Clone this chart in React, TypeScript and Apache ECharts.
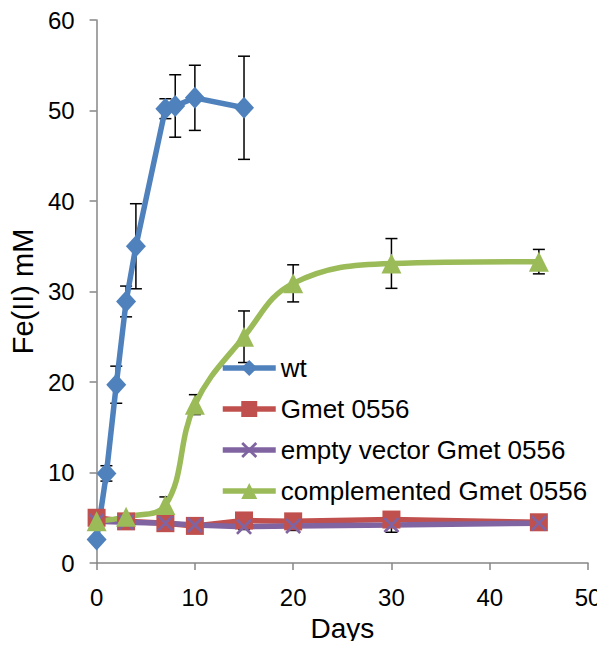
import React, { useEffect, useRef } from "react";
import * as echarts from "echarts";

const wtDays = [0, 1, 2, 3, 4, 7, 8, 10, 15];
const wtValues = [2.6, 9.9, 19.7, 28.9, 35.0, 50.2, 50.5, 51.4, 50.3];
const wtErrors = [0, 0.85, 2.05, 1.7, 4.7, 1.1, 3.45, 3.6, 5.7];

const otherDays = [0, 3, 7, 10, 15, 20, 30, 45];
const gmetValues = [5.0, 4.6, 4.4, 4.1, 4.7, 4.6, 4.8, 4.5];
const gmetErrors = [0.3, 0.3, 0.3, 0.3, 0.3, 0.4, 0.5, 0.3];
const emptyValues = [4.6, 4.5, 4.4, 4.2, 4.0, 4.1, 4.2, 4.4];
const emptyErrors = [0.3, 0.3, 0.3, 0.3, 0.3, 0.5, 0.8, 0.3];
const compValues = [4.6, 5.1, 6.4, 17.5, 25.0, 30.9, 33.1, 33.3];
const compErrors = [0.3, 0.3, 0.9, 1.1, 2.85, 2.05, 2.75, 1.35];

const seriesNames = ["wt", "Gmet 0556", "empty vector Gmet 0556", "complemented Gmet 0556"];
const colors = ["#4F81BD", "#C0504D", "#8064A2", "#9BBB59"];

const xSymbol =
  "path://M0,1.2 L1.2,0 L5,3.8 L8.8,0 L10,1.2 L6.2,5 L10,8.8 L8.8,10 L5,6.2 L1.2,10 L0,8.8 L3.8,5 Z";

const pairs = (xs: number[], ys: number[]) => xs.map((x, i) => [x, ys[i]]);
const errRows = (xs: number[], ys: number[], es: number[]) => xs.map((x, i) => [x, ys[i], es[i]]);

const FONT = "'Liberation Sans', Arial, sans-serif";

export default function App() {
  const ref = useRef<HTMLDivElement>(null);
  useEffect(() => {
    if (!ref.current) return;
    const chart = echarts.init(ref.current, undefined, { renderer: "svg" });

    const errorSeries = (rows: number[][]) => ({
      type: "custom",
      z: 1,
      silent: true,
      data: rows,
      encode: { x: 0, y: 1 },
      renderItem: (params: any, api: any) => {
        const x = api.value(0);
        const y = api.value(1);
        const e = api.value(2);
        if (!e || e <= 0) return { type: "group", children: [] };
        const top = api.coord([x, y + e]);
        const bot = api.coord([x, y - e]);
        const hw = 6;
        const st = { stroke: "#000", lineWidth: 1.5 };
        return {
          type: "group",
          children: [
            { type: "line", shape: { x1: top[0], y1: top[1], x2: bot[0], y2: bot[1] }, style: st },
            { type: "line", shape: { x1: top[0] - hw, y1: top[1], x2: top[0] + hw, y2: top[1] }, style: st },
            { type: "line", shape: { x1: bot[0] - hw, y1: bot[1], x2: bot[0] + hw, y2: bot[1] }, style: st },
          ],
        };
      },
    });

    const lineBase = (name: string, color: string, data: number[][], symbol: string, size: any, smooth: any) => ({
      name,
      type: "line",
      z: 2,
      data,
      smooth,
      symbol,
      symbolSize: size,
      showAllSymbol: true,
      lineStyle: { color, width: 5.5 },
      itemStyle: { color, borderWidth: 0 },
      emphasis: { disabled: true },
    });

    chart.setOption({
      animation: false,
      backgroundColor: "#ffffff",
      grid: { left: 95, right: 17, top: 20, bottom: 86, containLabel: false },
      legend: {
        orient: "vertical",
        left: 220,
        top: 355,
        padding: 0,
        itemWidth: 53,
        itemHeight: 20,
        itemGap: 15,
        data: seriesNames,
        lineStyle: { width: 5.5 },
        textStyle: { fontFamily: FONT, fontSize: 26, color: "#000", padding: [0, 0, 0, 0] },
        selectedMode: false,
      },
      xAxis: {
        type: "value",
        min: 0,
        max: 50,
        interval: 10,
        name: "Days",
        nameLocation: "middle",
        nameGap: 51,
        nameTextStyle: { fontFamily: FONT, fontSize: 28, color: "#000" },
        axisLine: { show: true, onZero: false, lineStyle: { color: "#868686", width: 1.5 } },
        axisTick: { show: true, inside: false, length: 7, lineStyle: { color: "#868686", width: 1.5 } },
        axisLabel: { fontFamily: FONT, fontSize: 24, color: "#000", margin: 22 },
        splitLine: { show: false },
      },
      yAxis: {
        type: "value",
        min: 0,
        max: 60,
        interval: 10,
        name: "Fe(II) mM",
        nameLocation: "middle",
        nameGap: 58,
        nameTextStyle: { fontFamily: FONT, fontSize: 29, color: "#000" },
        axisLine: { show: true, lineStyle: { color: "#868686", width: 1.5 } },
        axisTick: { show: true, inside: false, length: 7, lineStyle: { color: "#868686", width: 1.5 } },
        axisLabel: { fontFamily: FONT, fontSize: 24, color: "#000", margin: 22 },
        splitLine: { show: false },
      },
      series: [
        errorSeries(errRows(wtDays, wtValues, wtErrors)),
        errorSeries(errRows(otherDays, gmetValues, gmetErrors)),
        errorSeries(errRows(otherDays, emptyValues, emptyErrors)),
        errorSeries(errRows(otherDays, compValues, compErrors)),
        lineBase(seriesNames[0], colors[0], pairs(wtDays, wtValues), "diamond", [20, 22], false),
        lineBase(seriesNames[1], colors[1], pairs(otherDays, gmetValues), "rect", 18, false),
        lineBase(seriesNames[2], colors[2], pairs(otherDays, emptyValues), xSymbol, 16, false),
        lineBase(seriesNames[3], colors[3], pairs(otherDays, compValues), "triangle", 20, 0.4),
      ],
    });
    return () => chart.dispose();
  }, []);
  return <div ref={ref} style={{ width: 605, height: 649, margin: -8 }} />;
}
